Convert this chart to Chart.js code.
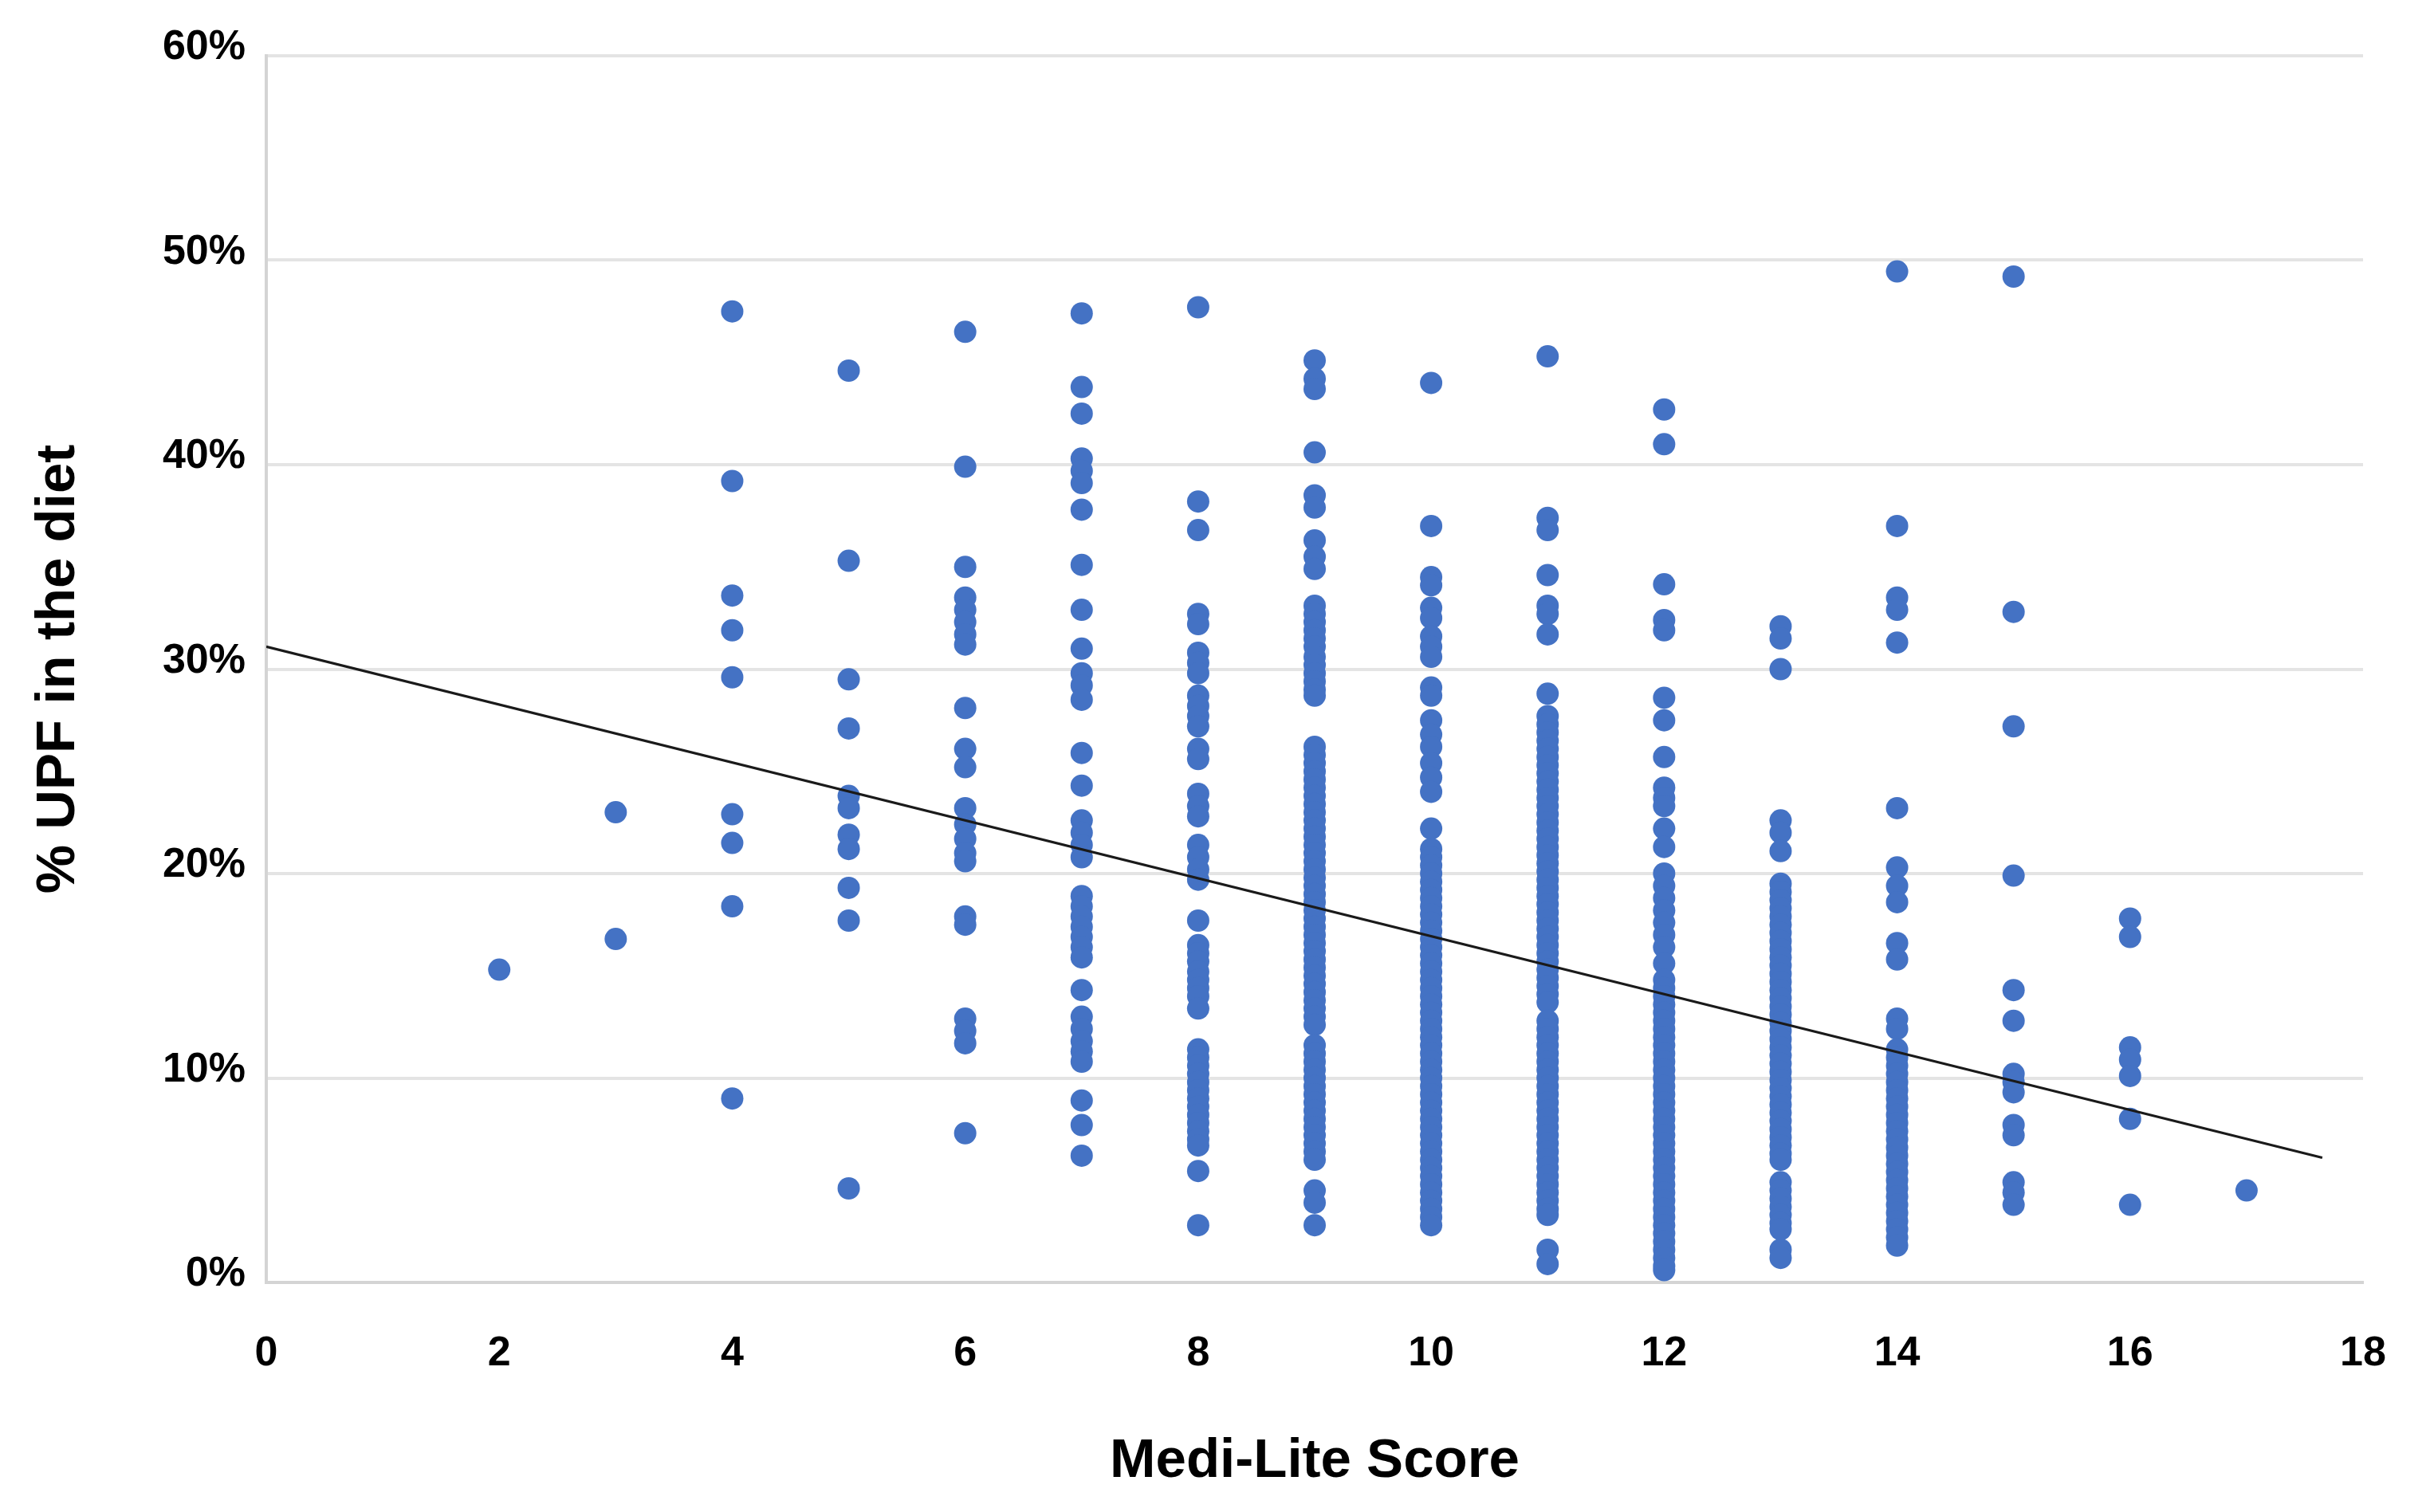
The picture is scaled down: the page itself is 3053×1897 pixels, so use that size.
<!DOCTYPE html>
<html>
<head>
<meta charset="utf-8">
<script src="https://cdn.jsdelivr.net/npm/chart.js@4/dist/chart.umd.min.js"></script>
<style>
  html, body { margin: 0; padding: 0; background: #ffffff; }
  #wrap { width: 3053px; height: 1897px; }
</style>
</head>
<body>
<div id="wrap"><canvas id="c" width="3053" height="1897"></canvas></div>
<script>
// ---- Data (Medi-Lite score -> % UPF in the diet) ----
const scores = [2, 3, 4, 5, 6, 7, 8, 9, 10, 11, 12, 13, 14, 15, 16, 17];

const upf2 = [15.3];
const upf3 = [23.0, 16.8];
const upf4 = [47.5, 39.2, 33.6, 31.9, 29.6, 22.9, 21.5, 18.4, 9.0];
const upf5 = [44.6, 35.3, 29.5, 27.1, 23.8, 23.2, 21.9, 21.2, 19.3, 17.7, 4.6];
const upf6 = [46.5, 39.9, 35.0, 33.5, 32.9, 32.3, 31.7, 31.2, 28.1, 26.1, 25.2, 23.2, 22.4, 21.7, 21.0, 20.6,
              17.9, 17.5, 12.9, 12.3, 11.7, 7.3];
const upf7 = [47.4, 43.8, 42.5, 40.3, 39.7, 39.1, 37.8, 35.1, 32.9, 31.0, 29.8, 29.2, 28.5, 25.9, 24.3,
              22.6, 22.0, 21.4, 20.8, 18.9, 18.4, 17.9, 17.4, 16.9, 16.4, 15.9, 14.3, 13.0, 12.4, 11.8,
              11.3, 10.8, 8.9, 7.7, 6.2];
const upf8 = [47.7, 38.2, 36.8, 32.7, 32.2, 30.8, 30.3, 29.8, 28.7, 28.2, 27.7, 27.2, 26.1, 25.6, 23.9,
              23.3, 22.8, 21.4, 20.8, 20.2, 19.7, 17.7, 16.5, 16.1, 15.7, 15.2, 14.8, 14.4, 14.0, 13.4,
              11.4, 11.0, 10.6, 10.2, 9.8, 9.4, 9.0, 8.6, 8.2, 7.8, 7.4, 7.0, 6.7, 5.45, 2.8];
const upf9 = [45.1, 44.2, 43.7, 40.6, 38.5, 37.9, 36.3, 35.5, 34.9, 33.1, 32.7, 32.3, 31.9, 31.5, 31.1,
              30.6, 30.2, 29.8, 29.4, 29.0, 28.7,
              26.2, 25.8, 25.4, 25.0, 24.6, 24.2, 23.8, 23.4, 23.0, 22.6, 22.2, 21.8, 21.4, 21.0, 20.6,
              20.2, 19.8, 19.4, 19.0, 18.6, 18.2, 17.8, 17.4, 17.0, 16.6, 16.2, 15.8, 15.4, 15.0, 14.6,
              14.2, 13.8, 13.4, 13.0, 12.6,
              11.6, 11.2, 10.8, 10.4, 10.0, 9.6, 9.2, 8.8, 8.4, 8.0, 7.6, 7.2, 6.8, 6.4, 6.0,
              4.5, 3.9, 2.8];
const upf10 = [44.0, 37.0, 34.5, 34.1, 33.0, 32.5, 31.6, 31.1, 30.6, 29.1, 28.7, 27.5, 26.8, 26.2, 25.4,
               24.7, 24.0, 22.2,
               21.2, 20.8, 20.4, 20.0, 19.6, 19.2, 18.8, 18.4, 18.0, 17.6, 17.2, 16.8, 16.4, 16.0, 15.6,
               15.2, 14.8, 14.4, 14.0, 13.6, 13.2, 12.8, 12.4, 12.0, 11.6, 11.2, 10.8, 10.4, 10.0, 9.6,
               9.2, 8.8, 8.4, 8.0, 7.6, 7.2, 6.8, 6.4, 6.0, 5.6, 5.2, 4.8, 4.4, 4.0, 3.6, 3.2, 2.8];
const upf11 = [45.3, 37.4, 36.8, 34.6, 33.1, 32.7, 31.7, 28.8,
               27.7, 27.3, 26.9, 26.5, 26.1, 25.7, 25.3, 24.9, 24.5, 24.1, 23.7, 23.3, 22.9, 22.5, 22.1,
               21.7, 21.3, 20.9, 20.5, 20.1, 19.7, 19.3, 18.9, 18.5, 18.1, 17.7, 17.3, 16.9, 16.5, 16.1,
               15.7, 15.3, 14.9, 14.5, 14.1, 13.7,
               12.8, 12.4, 12.0, 11.6, 11.2, 10.8, 10.4, 10.0, 9.6, 9.2, 8.8, 8.4, 8.0, 7.6, 7.2, 6.8,
               6.4, 6.0, 5.6, 5.2, 4.8, 4.4, 4.0, 3.6, 3.3, 1.6, 0.9];
const upf12 = [42.7, 41.0, 34.15, 32.4, 31.9, 28.6, 27.5, 25.7, 24.2, 23.7, 23.3, 22.2, 21.3, 20.0, 19.4,
               18.8, 18.2, 17.6, 17.0, 16.4, 15.6,
               14.8, 14.4, 14.0, 13.6, 13.2, 12.8, 12.4, 12.0, 11.6, 11.2, 10.8, 10.4, 10.0, 9.6, 9.2,
               8.8, 8.4, 8.0, 7.6, 7.2, 6.8, 6.4, 6.0, 5.6, 5.2, 4.8, 4.4, 4.0, 3.6, 3.2, 2.8, 2.4, 2.0,
               1.6, 1.2, 0.8, 0.6];
const upf13 = [32.1, 31.5, 30.0, 22.6, 22.0, 21.1,
               19.5, 19.1, 18.7, 18.3, 17.9, 17.5, 17.1, 16.7, 16.3, 15.9, 15.5, 15.1, 14.7, 14.3, 13.9,
               13.5, 13.1, 12.7, 12.3, 11.9, 11.5, 11.1, 10.7, 10.3, 9.9, 9.5, 9.1, 8.7, 8.3, 7.9, 7.5,
               7.1, 6.7, 6.3, 6.0,
               4.9, 4.5, 4.1, 3.7, 3.3, 2.9, 2.6, 1.6, 1.2];
const upf14 = [49.45, 37.0, 33.5, 32.9, 31.3, 23.2, 20.3, 19.4, 18.6, 16.6, 15.8, 12.9, 12.4,
               11.4, 11.0, 10.6, 10.2, 9.8, 9.4, 9.0, 8.6, 8.2, 7.8, 7.4, 7.0, 6.6, 6.2, 5.8, 5.4, 5.0,
               4.6, 4.2, 3.8, 3.4, 3.0, 2.6, 2.2, 1.8];
const upf15 = [49.2, 32.8, 27.2, 19.9, 14.3, 12.8, 10.2, 9.8, 9.3, 7.7, 7.2, 4.9, 4.4, 3.8];
const upf16 = [17.8, 16.9, 11.5, 10.9, 10.1, 8.0, 3.8];
const upf17 = [4.5];

const upfByScore = [upf2, upf3, upf4, upf5, upf6, upf7, upf8, upf9, upf10, upf11, upf12, upf13, upf14, upf15, upf16, upf17];

// Linear trend line end points
const trendX = [0, 17.65];
const trendY = [31.1, 6.1];

// Axis ticks
const xTicks = [0, 2, 4, 6, 8, 10, 12, 14, 16, 18];
const yTicks = [0, 10, 20, 30, 40, 50, 60];

// ---- Build datasets from the arrays ----
const scatterPoints = [];
scores.forEach((s, i) => {
  upfByScore[i].forEach(v => scatterPoints.push({ x: s, y: v }));
});
const trendPoints = trendX.map((x, i) => ({ x: x, y: trendY[i] }));

const tickFont = { family: "'Liberation Sans', Arial, sans-serif", size: 52, weight: 'bold' };
const titleFont = { family: "'Liberation Sans', Arial, sans-serif", size: 69, weight: 'bold' };

new Chart(document.getElementById('c'), {
  type: 'scatter',
  data: {
    datasets: [
      {
        type: 'line',
        label: 'Trend',
        data: trendPoints,
        borderColor: '#1a1a1a',
        borderWidth: 3.2,
        pointRadius: 0,
        fill: false,
        showLine: true,
        order: 0
      },
      {
        label: 'UPF',
        data: scatterPoints,
        backgroundColor: '#4472C4',
        borderColor: '#4472C4',
        borderWidth: 0,
        pointRadius: 14,
        pointHoverRadius: 14,
        order: 1
      }
    ]
  },
  options: {
    responsive: false,
    animation: false,
    devicePixelRatio: 1,
    layout: { padding: { left: 0, top: 70, right: 89, bottom: 0 } },
    plugins: {
      legend: { display: false },
      tooltip: { enabled: false },
      title: { display: false }
    },
    scales: {
      x: {
        type: 'linear',
        min: 0,
        max: 18,
        afterBuildTicks: (scale) => { scale.ticks = xTicks.map(v => ({ value: v })); },
        ticks: { font: tickFont, color: '#000000', padding: 58, maxRotation: 0 },
        grid: { display: true, color: 'rgba(0,0,0,0)', drawTicks: false },
        border: { display: true, color: '#d4d4d4', width: 4 },
        title: { display: true, text: 'Medi-Lite Score', font: titleFont, color: '#000000', padding: { top: 0, bottom: 22 } },
        afterFit: (scale) => { scale.height = 288; }
      },
      y: {
        type: 'linear',
        min: 0,
        max: 60,
        afterBuildTicks: (scale) => { scale.ticks = yTicks.map(v => ({ value: v })); },
        ticks: {
          font: tickFont,
          color: '#000000',
          padding: 26,
          labelOffset: -10,
          callback: (v) => v + '%'
        },
        grid: { display: true, color: '#e4e4e4', lineWidth: 4, drawTicks: false },
        border: { display: true, color: '#d4d4d4', width: 4 },
        title: { display: true, text: '% UPF in the diet', font: titleFont, color: '#000000', padding: { top: 33, bottom: 0 } },
        afterFit: (scale) => { scale.width = 334; }
      }
    }
  }
});
</script>
</body>
</html>
